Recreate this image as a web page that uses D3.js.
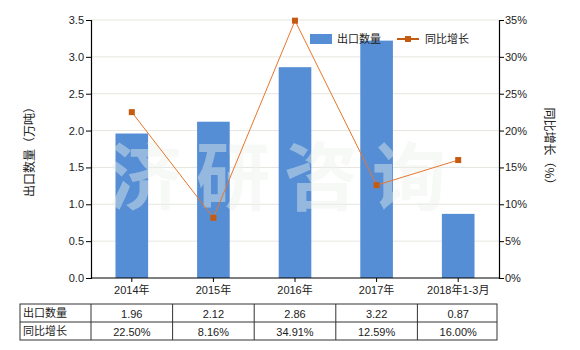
<!DOCTYPE html>
<html>
<head>
<meta charset="utf-8">
<script src="https://cdn.jsdelivr.net/npm/d3@7"></script>
<style>
    body { margin: 0; background: #fff; }
    svg text { font-family: "Liberation Sans", "Noto Sans CJK SC", sans-serif; }
</style>
</head>
<body>
<div id="chart"></div>
<script>
// chart data
const categories = ['2014年', '2015年', '2016年', '2017年', '2018年1-3月'];
const exportQty = [1.96, 2.12, 2.86, 3.22, 0.87];
const yoyGrowth = [22.50, 8.16, 34.91, 12.59, 16.00];
const qtyTicks = [0, 0.5, 1.0, 1.5, 2.0, 2.5, 3.0, 3.5];
const pctTicks = [0, 5, 10, 15, 20, 25, 30, 35];
const rowLabels = ['出口数量', '同比增长'];

const width = 580, height = 350;
const plotLeft = 91, plotRight = 499, plotTop = 20, plotBottom = 278;

const barColor = '#558ed5';
const lineColor = '#e8762d';
const markerColor = '#c55a11';

const svg = d3.select('#chart')
    .append('svg')
    .attr('width', width)
    .attr('height', height);

const x = d3.scaleBand()
    .domain(categories)
    .range([plotLeft, plotRight])
    .paddingInner(0.6)
    .paddingOuter(0.3);

const yLeft = d3.scaleLinear().domain([0, 3.5]).range([plotBottom, plotTop]);
const yRight = d3.scaleLinear().domain([0, 35]).range([plotBottom, plotTop]);

// gridlines
svg.append('g')
    .selectAll('line')
    .data(qtyTicks.slice(1))
    .join('line')
    .attr('x1', plotLeft)
    .attr('x2', plotRight)
    .attr('y1', d => yLeft(d))
    .attr('y2', d => yLeft(d))
    .attr('stroke', '#e6e6e0')
    .attr('stroke-width', 1);

// bars
svg.append('g')
    .selectAll('rect')
    .data(exportQty)
    .join('rect')
    .attr('x', (d, i) => x(categories[i]))
    .attr('y', d => yLeft(d))
    .attr('width', x.bandwidth())
    .attr('height', d => plotBottom - yLeft(d))
    .attr('fill', barColor);

// watermark
svg.append('text')
    .attr('x', 284)
    .attr('y', 204)
    .attr('text-anchor', 'middle')
    .attr('font-size', 74)
    .attr('font-weight', 'bold')
    .attr('letter-spacing', 14)
    .attr('fill', '#eef2ee')
    .attr('opacity', 0.42)
    .style('font-family', '"Noto Sans CJK SC", sans-serif')
    .text('济研咨询');

// growth line
const cx = i => x(categories[i]) + x.bandwidth() / 2;
const line = d3.line()
    .x((d, i) => cx(i))
    .y(d => yRight(d));

svg.append('path')
    .datum(yoyGrowth)
    .attr('d', line)
    .attr('fill', 'none')
    .attr('stroke', lineColor)
    .attr('stroke-width', 1);

svg.append('g')
    .selectAll('rect')
    .data(yoyGrowth)
    .join('rect')
    .attr('x', (d, i) => cx(i) - 3)
    .attr('y', d => yRight(d) - 3)
    .attr('width', 6)
    .attr('height', 6)
    .attr('fill', markerColor);

// axes
const leftAxis = d3.axisLeft(yLeft)
    .tickValues(qtyTicks)
    .tickFormat(d3.format('.1f'))
    .tickSize(5)
    .tickPadding(2);
const gL = svg.append('g')
    .attr('transform', `translate(${plotLeft},0)`)
    .call(leftAxis);

const rightAxis = d3.axisRight(yRight)
    .tickValues(pctTicks)
    .tickFormat(d => d + '%')
    .tickSize(5)
    .tickPadding(1);
const gR = svg.append('g')
    .attr('transform', `translate(${plotRight},0)`)
    .call(rightAxis);

const bottomAxis = d3.axisBottom(x)
    .tickSize(4)
    .tickPadding(4);
const gB = svg.append('g')
    .attr('transform', `translate(0,${plotBottom})`)
    .call(bottomAxis);

[gL, gR, gB].forEach(g => {
    g.select('.domain').attr('stroke', '#000').attr('stroke-width', 1.2);
    g.selectAll('.tick line').attr('stroke', '#000');
    g.selectAll('.tick text')
        .attr('fill', '#222')
        .attr('font-size', 11)
        .style('font-family', '"Liberation Sans", "Noto Sans CJK SC", sans-serif');
});
gB.select('.domain').attr('d', `M${plotLeft},0H${plotRight}`);

// axis titles
svg.append('text')
    .attr('transform', 'translate(34,149) rotate(-90)')
    .attr('text-anchor', 'middle')
    .attr('font-size', 12)
    .attr('fill', '#222')
    .style('font-family', '"Noto Sans CJK SC", sans-serif')
    .text('出口数量（万吨）');

svg.append('text')
    .attr('transform', 'translate(545,149) rotate(90)')
    .attr('text-anchor', 'middle')
    .attr('font-size', 12)
    .attr('fill', '#222')
    .style('font-family', '"Noto Sans CJK SC", sans-serif')
    .text('同比增长（%）');

// legend
const legend = svg.append('g').style('font-family', '"Noto Sans CJK SC", sans-serif');
legend.append('rect')
    .attr('x', 310).attr('y', 34)
    .attr('width', 22).attr('height', 10)
    .attr('fill', barColor);
legend.append('text')
    .attr('x', 337).attr('y', 43)
    .attr('font-size', 11).attr('fill', '#222')
    .text('出口数量');
legend.append('line')
    .attr('x1', 397).attr('x2', 419)
    .attr('y1', 39).attr('y2', 39)
    .attr('stroke', markerColor).attr('stroke-width', 2);
legend.append('rect')
    .attr('x', 405).attr('y', 36)
    .attr('width', 6).attr('height', 6)
    .attr('fill', markerColor);
legend.append('text')
    .attr('x', 425).attr('y', 43)
    .attr('font-size', 11).attr('fill', '#222')
    .text('同比增长');

// data table
const tTop = 304, rowH = 18, tLeft = 20;
const rows = [exportQty.map(d => d.toFixed(2)), yoyGrowth.map(d => d.toFixed(2) + '%')];
const table = svg.append('g');

table.append('rect')
    .attr('x', tLeft).attr('y', tTop)
    .attr('width', plotRight - 2 - tLeft).attr('height', rowH * 2)
    .attr('fill', 'none').attr('stroke', '#333');
table.append('line')
    .attr('x1', tLeft).attr('x2', plotRight - 2)
    .attr('y1', tTop + rowH).attr('y2', tTop + rowH)
    .attr('stroke', '#333');

const colEdges = [plotLeft].concat(categories.map(c => x(c) + x.bandwidth() / 2 + x.step() / 2)).slice(0, -1);
table.selectAll('line.col')
    .data(colEdges)
    .join('line')
    .attr('class', 'col')
    .attr('x1', d => d).attr('x2', d => d)
    .attr('y1', tTop).attr('y2', tTop + rowH * 2)
    .attr('stroke', '#333');

rowLabels.forEach((label, r) => {
    table.append('text')
        .attr('x', tLeft + 3)
        .attr('y', tTop + rowH * r + 13)
        .attr('font-size', 11)
        .attr('fill', '#222')
        .style('font-family', '"Noto Sans CJK SC", sans-serif')
        .text(label);
    table.selectAll(null)
        .data(rows[r])
        .join('text')
        .attr('x', (d, i) => cx(i))
        .attr('y', tTop + rowH * r + 14)
        .attr('text-anchor', 'middle')
        .attr('font-size', 11)
        .attr('fill', '#222')
        .text(d => d);
});
</script>
</body>
</html>
